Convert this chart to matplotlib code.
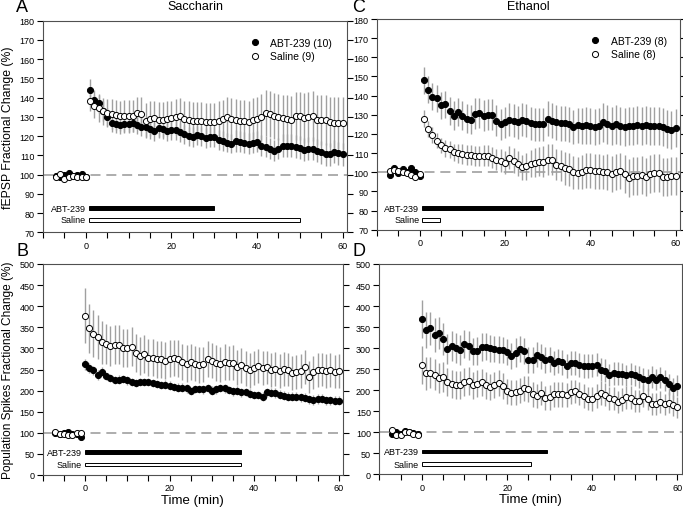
import matplotlib
matplotlib.use("Agg")
import matplotlib.pyplot as plt
from matplotlib.lines import Line2D

plt.rcParams['font.family'] = ['Liberation Sans', 'DejaVu Sans']

# time points (min)
pre_top = list(range(-7, 1))
post_top = list(range(1, 61))
pre_bot = list(range(-7, 0))
post_bot = list(range(0, 61))

# ---- A: Saccharin, fEPSP ----
a_pre_abt = [99.5, 98.5, 100, 101, 99.5, 100, 100.5, 99]
a_pre_sal = [98.5, 100.5, 97.8, 99, 99.5, 98.5, 98.5, 98.5]
a_abt = [144, 139, 137, 133, 130, 127, 126.5, 126, 126.5, 126.5,
         127, 126, 125, 124.5, 123.5, 122.5, 124, 123.5, 122.5, 123,
         123, 122, 121, 120, 119.5, 120.5, 120, 119, 119.5, 119.5,
         118, 117.5, 116.5, 116, 117.5, 117, 116.5, 116, 116.5, 117,
         115, 114.5, 113.5, 112.5, 113.5, 115, 115, 115, 114.5, 114,
         113, 113.5, 113.5, 112.5, 111.5, 110.5, 110.5, 112, 111, 110.5]
a_abt_err = [5.5, 5, 5, 5, 4.5, 5, 5, 5, 5, 5,
             5, 5, 5, 5, 5, 5, 5, 5, 5, 5,
             5, 5, 5, 5, 5, 5, 5, 5, 5, 5,
             5, 5, 5, 5, 5.5, 5.5, 5.5, 5.5, 5.5, 5.5,
             5.5, 5.5, 5.5, 5.5, 5.5, 6, 6, 6, 6, 6,
             6, 6, 6, 6, 6, 6, 6, 6, 6, 6]
a_sal = [138, 135.5, 134.5, 133, 132, 131.5, 131, 130.5, 130.5, 130.5,
         130.5, 132, 131.5, 128, 129, 129.5, 128.5, 128.5, 129, 129.5,
         130, 130.5, 129, 128.5, 128, 128, 128, 127.5, 127.5, 127.5,
         128, 129, 130, 129, 128.5, 128, 128, 127.5, 128.5, 129,
         130, 132, 131.5, 130.5, 130, 129.5, 129, 128.5, 130.5, 130.5,
         129.5, 130, 130.5, 128.5, 128.5, 128.5, 127.5, 127, 127, 127]
a_sal_err = [5, 6, 7, 7, 7.5, 8, 8, 8, 8.5, 8.5,
             8.5, 8.5, 9, 9, 9, 9, 9, 9, 9, 9,
             9.5, 9.5, 9.5, 9.5, 9.5, 9.5, 9.5, 9.5, 9.5, 9.5,
             10, 10, 10.5, 11, 11, 11, 11, 11, 11.5, 11.5,
             12, 12, 12, 12, 12, 12, 12.5, 12.5, 12.5, 12.5,
             13, 13, 13, 13, 13, 13, 13, 13.5, 13.5, 13.5]

# ---- C: Ethanol, fEPSP ----
c_pre_abt = [98.5, 102, 99.5, 101.5, 100, 102, 100, 98]
c_pre_sal = [100.5, 101, 100.5, 100, 99.5, 98.5, 97.5, 99]
c_abt = [148, 143, 139.5, 138.5, 135, 135.5, 132, 129.5, 131.5, 129.5,
         128, 127.5, 130.5, 131, 129.5, 130, 130, 127, 125, 126,
         127.5, 127, 126, 127.5, 127, 125.5, 125, 125, 125, 128,
         127, 126, 125.5, 125.5, 125, 123.5, 124.5, 124, 124.5, 124,
         123.5, 124, 126, 125, 124, 125, 124, 123.5, 124, 124,
         124.5, 124, 124.5, 124, 124, 124, 123.5, 122.5, 122, 123]
c_abt_err = [7, 7, 7, 7, 7, 7, 7.5, 7.5, 7.5, 7.5,
             7.5, 7.5, 8, 8, 8, 8, 8, 8, 8, 8,
             8.5, 8.5, 8.5, 8.5, 8.5, 8.5, 8.5, 8.5, 8.5, 9,
             9, 9, 9, 9, 9, 9, 9, 9.5, 9.5, 9.5,
             9.5, 9.5, 10, 10, 10, 10, 10, 10, 10, 10,
             10, 10, 10, 10, 10, 10, 10, 10, 10, 10]
c_sal = [128, 122.5, 119.5, 116.5, 114, 112.5, 112, 110.5, 110, 109.5,
         109, 109, 108.5, 108.5, 108.5, 108.5, 107.5, 106.5, 106, 105,
         107.5, 106, 104.5, 102.5, 103, 104.5, 105, 105.5, 105.5, 106.5,
         106.5, 104, 103.5, 102, 101.5, 100, 99.5, 100, 101, 101,
         100.5, 100.5, 100, 100, 99, 100, 100.5, 99, 97, 98,
         98, 98.5, 97.5, 99, 99.5, 99.5, 97.5, 97.5, 98, 98]
c_sal_err = [4.5, 4, 4, 4, 4, 4.5, 4.5, 4.5, 5, 5,
             5, 5, 5, 5, 5.5, 5.5, 5.5, 5.5, 6, 6,
             6, 6.5, 6.5, 6.5, 7, 7, 7.5, 7.5, 8, 8,
             8, 8, 8, 8.5, 8.5, 8.5, 8.5, 9, 9, 9,
             9, 9, 9, 9.5, 9.5, 9.5, 9.5, 10, 10, 10,
             10, 10, 10, 10, 10, 10, 10, 10, 10, 10]

# ---- B: Saccharin, population spikes ----
b_pre_abt = [100, 98, 100, 101, 97, 98, 90]
b_pre_sal = [101, 97, 97, 94, 95, 99, 100]
b_abt = [262, 253, 248, 237, 245, 235, 230, 225, 226, 227,
         224, 221, 218, 220, 220, 221, 218, 215, 213, 214,
         212, 208, 207, 207, 205, 199, 204, 204, 203, 206,
         200, 203, 206, 205, 201, 198, 200, 196, 197, 193,
         190, 189, 186, 196, 195, 194, 190, 188, 186, 186,
         186, 184, 183, 179, 178, 180, 181, 177, 177, 176, 176]
b_abt_err = [12, 12, 11, 11, 11, 10, 10, 10, 10, 10,
             10, 10, 10, 10, 10, 10, 10, 10, 10, 10,
             10, 10, 10, 10, 10, 10, 10, 10, 10, 10,
             10, 10, 10, 10, 10, 10, 10, 10, 10, 10,
             10, 10, 10, 11, 11, 11, 11, 11, 11, 11,
             11, 11, 11, 11, 11, 11, 11, 11, 11, 11, 11]
b_sal = [377, 348, 335, 328, 314, 310, 306, 309, 309, 301,
         301, 304, 290, 282, 287, 278, 278, 274, 274, 271,
         276, 277, 276, 268, 264, 267, 264, 261, 262, 275,
         271, 265, 262, 268, 265, 266, 255, 260, 253, 248,
         254, 258, 254, 255, 248, 252, 246, 251, 250, 242,
         244, 247, 256, 232, 243, 249, 250, 246, 248, 245, 246]
b_sal_err = [65, 58, 55, 52, 50, 48, 47, 47, 46, 46,
             46, 46, 45, 45, 45, 44, 44, 44, 44, 44,
             43, 43, 43, 43, 43, 43, 42, 42, 42, 42,
             42, 42, 42, 42, 41, 41, 41, 41, 41, 41,
             40, 40, 40, 40, 40, 40, 40, 40, 40, 40,
             40, 40, 40, 38, 40, 40, 40, 40, 40, 40, 40]

# ---- D: Ethanol, population spikes ----
d_pre_abt = [97, 100, 95, 103, 101, 98, 97]
d_pre_sal = [105, 93, 93, 100, 101, 97, 93]
d_abt = [369, 343, 347, 331, 335, 322, 298, 305, 300, 296,
         310, 306, 292, 293, 303, 303, 300, 298, 296, 296,
         290, 282, 289, 298, 293, 272, 272, 284, 280, 272,
         273, 265, 269, 266, 258, 264, 264, 260, 258, 258,
         258, 261, 249, 246, 236, 240, 239, 239, 235, 239,
         235, 231, 227, 225, 231, 225, 231, 224, 214, 205, 211]
d_abt_err = [45, 42, 40, 40, 38, 38, 36, 35, 35, 35,
             34, 34, 33, 33, 33, 32, 32, 32, 32, 31,
             31, 31, 35, 31, 30, 30, 30, 30, 30, 30,
             29, 29, 29, 29, 28, 28, 28, 28, 28, 28,
             27, 27, 27, 27, 27, 27, 27, 26, 26, 26,
             26, 26, 26, 26, 26, 25, 25, 25, 25, 25, 25]
d_sal = [260, 240, 242, 237, 229, 231, 219, 215, 213, 212,
         220, 222, 212, 215, 219, 212, 207, 213, 217, 211,
         197, 194, 195, 199, 204, 203, 190, 186, 194, 181,
         183, 190, 190, 190, 189, 196, 197, 192, 186, 180,
         179, 186, 193, 189, 181, 180, 172, 177, 183, 182,
         174, 175, 186, 178, 168, 167, 172, 167, 170, 164, 159]
d_sal_err = [45, 40, 38, 37, 36, 35, 34, 34, 33, 33,
             33, 33, 32, 32, 32, 32, 31, 31, 31, 31,
             30, 30, 30, 30, 30, 30, 30, 29, 29, 29,
             29, 29, 29, 29, 29, 28, 28, 28, 28, 28,
             28, 28, 28, 27, 27, 27, 27, 27, 27, 27,
             26, 26, 26, 26, 26, 26, 26, 25, 25, 25, 25]

# drug exposure bars (start, end in min)
a_bars = [(0.7, 30), (0.7, 50)]
c_bars = [(0.6, 29), (0.6, 4.8)]
b_bars = [(0, 36.8), (0, 36.8)]
d_bars = [(0, 29.3), (0, 25.5)]

legend_a = ['ABT-239 (10)', 'Saline (9)']
legend_c = ['ABT-239 (8)', 'Saline (8)']

W, H = 683, 510
fig = plt.figure(figsize=(W / 100, H / 100), dpi=100)


def px_axes(left, top, right, bottom):
    return fig.add_axes([left / W, 1 - bottom / H, (right - left) / W, (bottom - top) / H])


GRAY = '#a0a0a0'
MS = 4.4


def draw_panel(ax, pre_t, post_t, pre_abt, pre_sal, abt, abt_err, sal, sal_err,
               bars, bar_y, bar_h, ylim, yticks):
    ax.axhline(100, color=GRAY, lw=1.2, ls=(0, (6, 3.5)), zorder=0)
    ax.errorbar(post_t, abt, yerr=abt_err, fmt='none', ecolor=GRAY, elinewidth=1, capsize=0, zorder=1)
    ax.errorbar(post_t, sal, yerr=sal_err, fmt='none', ecolor=GRAY, elinewidth=1, capsize=0, zorder=1)
    mk = dict(marker='o', ms=MS, ls='none', mec='black', mew=0.7)
    ax.plot(pre_t, pre_abt, mfc='black', zorder=3, **mk)
    ax.plot(pre_t, pre_sal, mfc='white', zorder=4, **mk)
    ax.plot(post_t, abt, mfc='black', zorder=3, **mk)
    ax.plot(post_t, sal, mfc='white', zorder=4, **mk)

    for (start, end), y, fc, name in zip(bars, bar_y, ['black', 'white'], ['ABT-239', 'Saline']):
        ax.barh(y, end - start, left=start, height=bar_h, color=fc, edgecolor='black', linewidth=0.7, zorder=2)
        ax.text(start - 0.7, y, name, ha='right', va='center', fontsize=6.5)

    ax.set_xlim(-10, 61)
    ax.set_ylim(*ylim)
    ax.set_xticks([0, 20, 40, 60])
    ax.set_xticks(range(-10, 61, 5), minor=True)
    ax.set_yticks(yticks)
    ax.tick_params(direction='out', length=4, width=0.8, labelsize=6.5, right=True, pad=2)
    ax.tick_params(which='minor', direction='out', length=4, width=0.8)
    for s in ax.spines.values():
        s.set_linewidth(0.8)
        s.set_color('#505050')


def add_legend(ax, labels, x):
    handles = [Line2D([], [], marker='o', ls='none', ms=MS, mec='black', mew=0.7, mfc='black'),
               Line2D([], [], marker='o', ls='none', ms=MS, mec='black', mew=0.7, mfc='white')]
    ax.legend(handles, labels, loc='upper left', bbox_to_anchor=(x, 0.94), frameon=False,
              fontsize=7.5, handlelength=1, handletextpad=1.0, labelspacing=0.35, borderaxespad=0)


axA = px_axes(43, 21.7, 347, 233.3)
axC = px_axes(377, 20, 680, 230.7)
axB = px_axes(42.7, 265, 343, 476)
axD = px_axes(379.3, 265, 681.7, 475.3)

draw_panel(axA, pre_top, post_top, a_pre_abt, a_pre_sal, a_abt, a_abt_err, a_sal, a_sal_err,
           a_bars, [82.5, 76.5], 2.0, (70, 180), range(70, 181, 10))
draw_panel(axC, pre_top, post_top, c_pre_abt, c_pre_sal, c_abt, c_abt_err, c_sal, c_sal_err,
           c_bars, [81.3, 75.2], 2.0, (70, 180), range(70, 181, 10))
draw_panel(axB, pre_bot, post_bot, b_pre_abt, b_pre_sal, b_abt, b_abt_err, b_sal, b_sal_err,
           b_bars, [54, 25], 9.0, (0, 500), range(0, 501, 50))
draw_panel(axD, pre_bot, post_bot, d_pre_abt, d_pre_sal, d_abt, d_abt_err, d_sal, d_sal_err,
           d_bars, [54, 24], 9.0, (0, 500), range(0, 501, 50))

add_legend(axA, legend_a, 0.665)
add_legend(axC, legend_c, 0.69)

axA.set_ylabel('fEPSP Fractional Change (%)', fontsize=8.8, labelpad=4)
axB.set_ylabel('Population Spikes Fractional Change (%)', fontsize=8.6, labelpad=4)
axB.set_xlabel('Time (min)', fontsize=9.5, labelpad=1)
axD.set_xlabel('Time (min)', fontsize=9.5, labelpad=1)

fig.text(195 / W, 1 - 7 / H, 'Saccharin', ha='center', va='center', fontsize=9)
fig.text(528 / W, 1 - 7 / H, 'Ethanol', ha='center', va='center', fontsize=9)
for lab, x, y in [('A', 16, 8), ('B', 16, 251), ('C', 352, 8), ('D', 352, 251)]:
    fig.text(x / W, 1 - y / H, lab, ha='left', va='center', fontsize=13)

fig.savefig('out.png', dpi=100)
